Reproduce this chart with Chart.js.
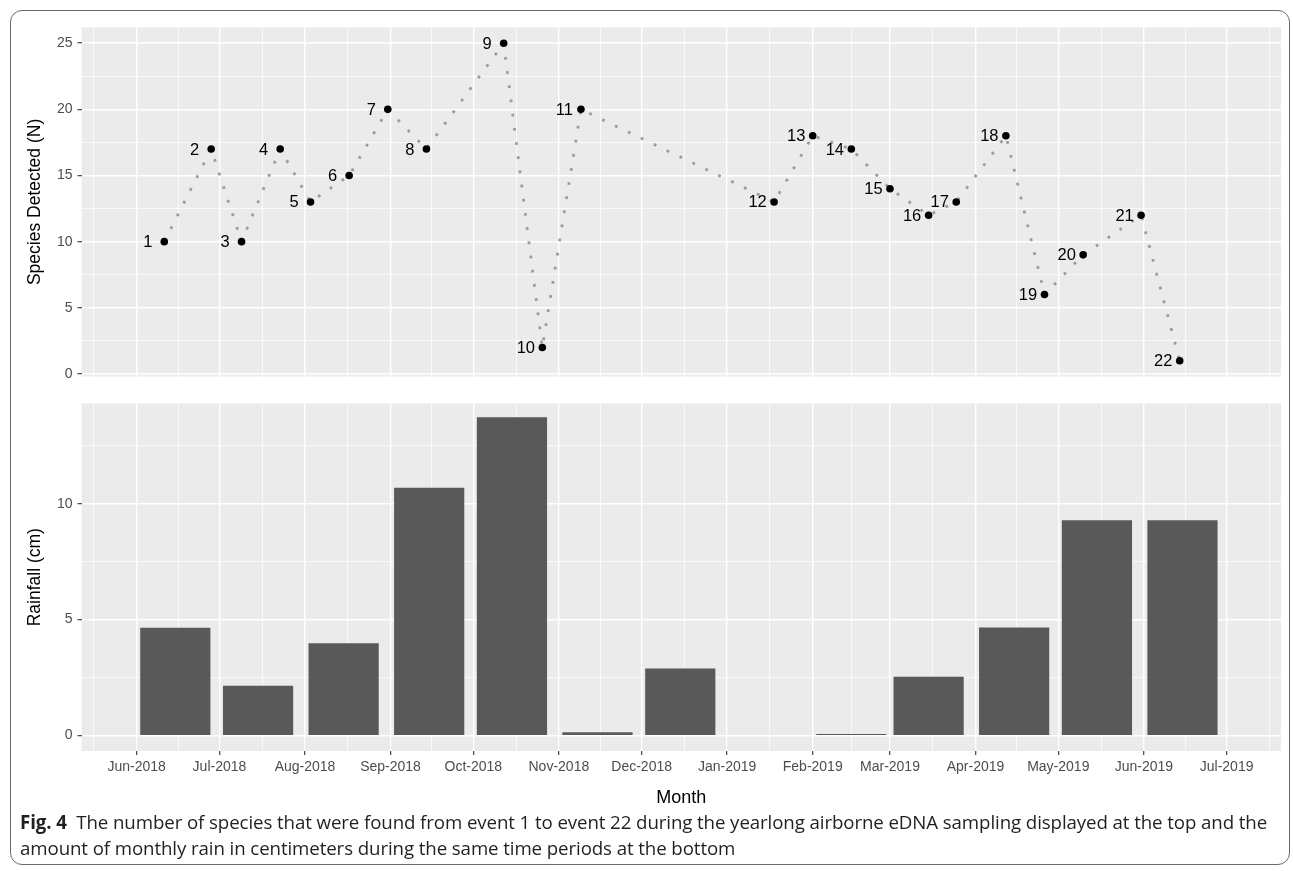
<!DOCTYPE html>
<html>
<head>
<meta charset="utf-8">
<title>Fig. 4 - species detected and rainfall</title>
<script src="https://cdn.jsdelivr.net/npm/chart.js@4.4.1/dist/chart.umd.min.js"></script>
<style>
  html, body { margin: 0; padding: 0; background: #fff; }
  #fig { position: relative; width: 1293px; height: 871px; overflow: hidden; }
  #frame {
    position: absolute; left: 10px; top: 10px; width: 1280px; height: 855px;
    border: 1.5px solid #6a6a6a; border-radius: 12px; box-sizing: border-box;
  }
  canvas { position: absolute; left: 0; }
  #topChart { top: 0; }
  #rainChart { top: 390px; }
  #caption {
    position: absolute; left: 20px; top: 809px;
    font-family: "Open Sans", "Noto Sans", sans-serif; font-size: 18.7px;
    line-height: 26px; color: #231f20; white-space: nowrap; letter-spacing: -0.1px;
  }
  #caption b { font-weight: 700; }
</style>
</head>
<body>
<div id="fig">
  <div id="frame"></div>
  <canvas id="topChart" width="1293" height="390"></canvas>
  <canvas id="rainChart" width="1293" height="420"></canvas>
  <div id="caption"><b>Fig. 4</b>&nbsp; The number of species that were found from event 1 to event 22 during the yearlong airborne eDNA sampling displayed at the top and the<br>amount of monthly rain in centimeters during the same time periods at the bottom</div>
</div>

<script>
// sampling events (top panel)
const eventDates = [
  "2018-06-11", "2018-06-28", "2018-07-09", "2018-07-23", "2018-08-03",
  "2018-08-17", "2018-08-31", "2018-09-14", "2018-10-12", "2018-10-26",
  "2018-11-09", "2019-01-18", "2019-02-01", "2019-02-15", "2019-03-01",
  "2019-03-15", "2019-03-25", "2019-04-12", "2019-04-26", "2019-05-10",
  "2019-05-31", "2019-06-14",
];
const speciesCount = [10, 17, 10, 17, 13, 15, 20, 17, 25, 2, 20, 13, 18, 17, 14, 12, 13, 18, 6, 9, 12, 1];
const eventLabels = ["1", "2", "3", "4", "5", "6", "7", "8", "9", "10", "11",
  "12", "13", "14", "15", "16", "17", "18", "19", "20", "21", "22"];

// monthly rainfall (bottom panel), no bar for Jan-2019
const rainMonths = [
  "2018-06-15", "2018-07-15", "2018-08-15", "2018-09-15", "2018-10-15",
  "2018-11-15", "2018-12-15", "2019-01-15", "2019-02-15", "2019-03-15",
  "2019-04-15", "2019-05-15", "2019-06-15",
];
const rainfallCm = [4.63, 2.13, 3.97, 10.68, 13.72, 0.12, 2.88, null, 0.05, 2.52, 4.65, 9.27, 9.27];

// axes
const monthTicks = [
  "2018-06-01", "2018-07-01", "2018-08-01", "2018-09-01", "2018-10-01",
  "2018-11-01", "2018-12-01", "2019-01-01", "2019-02-01", "2019-03-01",
  "2019-04-01", "2019-05-01", "2019-06-01", "2019-07-01",
];
const monthLabels = [
  "Jun-2018", "Jul-2018", "Aug-2018", "Sep-2018", "Oct-2018", "Nov-2018", "Dec-2018",
  "Jan-2019", "Feb-2019", "Mar-2019", "Apr-2019", "May-2019", "Jun-2019", "Jul-2019",
];
const xRange = ["2018-05-12", "2019-07-20T17:00:00"];
const speciesTicks = [0, 5, 10, 15, 20, 25];
const speciesRange = [-0.2, 26.2];
const rainTicks = [0, 5, 10];
const rainRange = [-0.67, 14.33];

const GG = {
  panel: "#ebebeb",
  grid: "#ffffff",
  tick: "#333333",
  tickText: "#4d4d4d",
  bar: "#595959",
  line: "#9c9c9c",
};

// panel geometry shared by both charts
const AXIS_W = 81.5;
const PAD_RIGHT = 12;
const PLOT_W = 1293 - AXIS_W - PAD_RIGHT;

Chart.defaults.font.family = "'Liberation Sans', Arial, sans-serif";
Chart.defaults.color = GG.tickText;
Chart.defaults.animation = false;

function day(s) {
  const iso = s.length === 10 ? s + "T00:00:00Z" : s + "Z";
  return Date.parse(iso) / 86400000;
}

const majorX = monthTicks.map(day);
const extX = [day("2018-05-01"), ...majorX, day("2019-08-01")];
const minorX = [];
for (let i = 0; i < extX.length - 1; i++) minorX.push((extX[i] + extX[i + 1]) / 2);

// ggplot bar width: 0.9 of the smallest gap between months
const rainX = rainMonths.map(day);
let minGap = Infinity;
for (let i = 1; i < rainX.length; i++) minGap = Math.min(minGap, rainX[i] - rainX[i - 1]);
const barPx = (0.9 * minGap * PLOT_W) / (day(xRange[1]) - day(xRange[0]));

function isMajor(list, v) {
  return list.some((m) => Math.abs(m - v) < 1e-6);
}

function withMinor(major, lo, hi) {
  const out = major.map((v) => ({ value: v }));
  for (let i = 0; i < major.length; i++) {
    const mid = major[i] + (major[1] - major[0]) / 2;
    if (mid > lo && mid < hi) out.push({ value: mid });
  }
  return out.sort((a, b) => a.value - b.value);
}

function xScale(showLabels) {
  return {
    type: "linear",
    min: day(xRange[0]),
    max: day(xRange[1]),
    offset: false,
    afterBuildTicks: (s) => {
      s.ticks = [...majorX, ...minorX].sort((a, b) => a - b).map((v) => ({ value: v }));
    },
    afterFit: (s) => { s.height = showLabels ? 59 : 0; },
    ticks: {
      display: showLabels,
      autoSkip: false,
      maxRotation: 0,
      padding: 4,
      color: GG.tickText,
      font: { size: 14 },
      callback: (v) => {
        const i = majorX.findIndex((m) => Math.abs(m - v) < 1e-6);
        return i >= 0 ? monthLabels[i] : "";
      },
    },
    grid: {
      offset: false,
      color: GG.grid,
      lineWidth: (ctx) => (ctx.tick && isMajor(majorX, ctx.tick.value) ? 1.4 : 0.7),
      drawTicks: showLabels,
      tickLength: 4,
      tickWidth: 1.1,
      tickColor: (ctx) => (ctx.tick && isMajor(majorX, ctx.tick.value) ? GG.tick : "rgba(0,0,0,0)"),
    },
    border: { display: false },
    title: {
      display: showLabels,
      text: "Month",
      color: "#000",
      font: { size: 18 },
      padding: { top: 0, bottom: 1 },
    },
  };
}

function yScale(range, major, title) {
  return {
    type: "linear",
    min: range[0],
    max: range[1],
    afterBuildTicks: (s) => { s.ticks = withMinor(major, range[0], range[1]); },
    afterFit: (s) => { s.width = AXIS_W; },
    ticks: {
      padding: 5,
      color: GG.tickText,
      font: { size: 14 },
      callback: (v) => (isMajor(major, v) ? String(v) : ""),
    },
    grid: {
      color: GG.grid,
      lineWidth: (ctx) => (ctx.tick && isMajor(major, ctx.tick.value) ? 1.4 : 0.7),
      tickLength: 4,
      tickWidth: 1.1,
      tickColor: (ctx) => (ctx.tick && isMajor(major, ctx.tick.value) ? GG.tick : "rgba(0,0,0,0)"),
    },
    border: { display: false },
    title: {
      display: true,
      text: title,
      color: "#000",
      font: { size: 17.5 },
      padding: { top: 24.5, bottom: 0 },
    },
  };
}

// grey ggplot panel behind the grid
const panelBg = {
  id: "panelBg",
  beforeDraw(chart) {
    const { ctx, chartArea: a } = chart;
    ctx.save();
    ctx.fillStyle = GG.panel;
    ctx.fillRect(a.left, a.top, a.right - a.left, a.bottom - a.top);
    ctx.restore();
  },
};

// event numbers to the left of each point
const eventText = {
  id: "eventText",
  afterDatasetsDraw(chart) {
    const { ctx } = chart;
    const meta = chart.getDatasetMeta(0);
    ctx.save();
    ctx.fillStyle = "#000";
    ctx.font = "16.5px 'Liberation Sans', Arial, sans-serif";
    ctx.textAlign = "center";
    ctx.textBaseline = "middle";
    meta.data.forEach((pt, i) => {
      ctx.fillText(eventLabels[i], pt.x - 16.5, pt.y + 1);
    });
    ctx.restore();
  },
};

new Chart(document.getElementById("topChart"), {
  type: "line",
  data: {
    datasets: [{
      data: eventDates.map((d, i) => ({ x: day(d), y: speciesCount[i] })),
      borderColor: GG.line,
      borderWidth: 2.8,
      borderDash: [2.8, 11.5],
      borderCapStyle: "butt",
      tension: 0,
      pointRadius: 3.8,
      pointBackgroundColor: "#000",
      pointBorderWidth: 0,
    }],
  },
  options: {
    responsive: false,
    devicePixelRatio: 1,
    layout: { padding: { left: 0, right: PAD_RIGHT, top: 27.3, bottom: 10.6 } },
    plugins: { legend: { display: false }, tooltip: { enabled: false } },
    scales: {
      x: xScale(false),
      y: yScale(speciesRange, speciesTicks, "Species Detected (N)"),
    },
  },
  plugins: [panelBg, eventText],
});

new Chart(document.getElementById("rainChart"), {
  type: "bar",
  data: {
    datasets: [{
      data: rainX.map((x, i) => ({ x, y: rainfallCm[i] })),
      backgroundColor: GG.bar,
      borderWidth: 0,
      barThickness: barPx,
    }],
  },
  options: {
    responsive: false,
    devicePixelRatio: 1,
    layout: { padding: { left: 0, right: PAD_RIGHT, top: 10, bottom: 0 } },
    plugins: { legend: { display: false }, tooltip: { enabled: false } },
    scales: {
      x: xScale(true),
      y: yScale(rainRange, rainTicks, "Rainfall (cm)"),
    },
  },
  plugins: [panelBg],
});
</script>
</body>
</html>
